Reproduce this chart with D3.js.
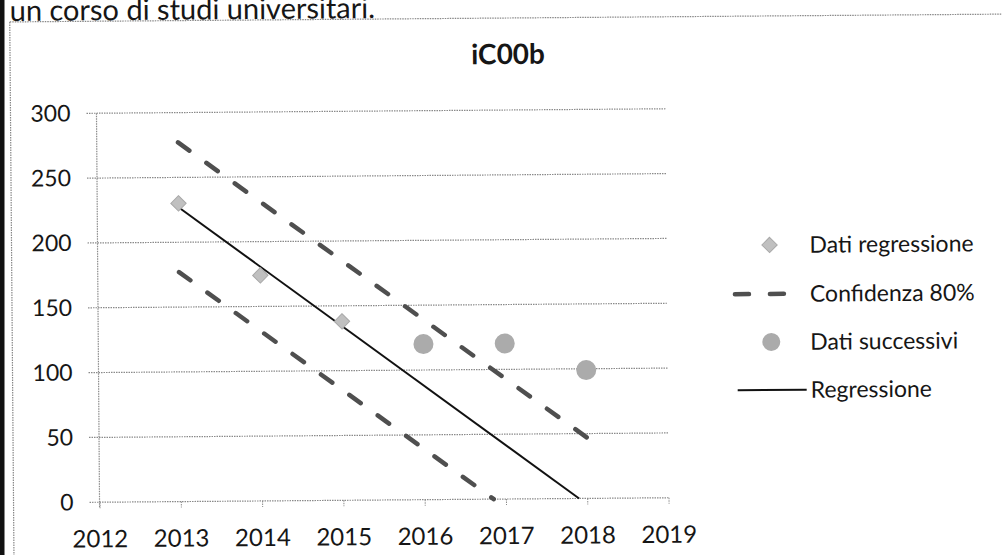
<!DOCTYPE html>
<html lang="it">
<head>
<meta charset="UTF-8">
<title>iC00b</title>
<script src="https://cdn.jsdelivr.net/npm/d3@7"></script>
<style>
    body { margin: 0; background: #fff; }
    text { font-family: Lato, "Open Sans", sans-serif; fill: #161616; }
</style>
</head>
<body>
<script>
    // valori
    var xTicks = [2012, 2013, 2014, 2015, 2016, 2017, 2018, 2019];
    var yTicks = [0, 50, 100, 150, 200, 250, 300];
    var regYears = [2013, 2014, 2015];
    var regValues = [230, 174, 138];
    var nextYears = [2016, 2017, 2018];
    var nextValues = [120, 120, 99];
    var lineYears = [2013, 2017.9];
    var lineValues = [227, 0];
    var upperYears = [2013, 2018];
    var upperValues = [277, 47];
    var lowerYears = [2013, 2016.85];
    var lowerValues = [177, 0];
    var legendLabels = ["Dati regressione", "Confidenza 80%", "Dati successivi", "Regressione"];

    var W = 1002, H = 555;
    var svg = d3.select("body").append("svg").attr("width", W).attr("height", H);
    // la scansione e' leggermente ruotata
    var g = svg.append("g").attr("transform", "rotate(-0.45,382,305)");

    var x = d3.scaleLinear().domain([2012, 2019]).range([98, 667]);
    var y = d3.scaleLinear().domain([0, 300]).range([500, 111]);

    // bordo pagina e cornice tratteggiata
    svg.append("rect").attr("x", 0).attr("y", 0).attr("width", 4.5).attr("height", H).attr("fill", "#111");
    g.append("line").attr("x1", 12).attr("y1", 19).attr("x2", 1010).attr("y2", 19)
        .attr("stroke", "#888").attr("stroke-width", 1.2).attr("stroke-dasharray", "1.5,1");
    g.append("line").attr("x1", 12).attr("y1", 19).attr("x2", 12).attr("y2", 570)
        .attr("stroke", "#888").attr("stroke-width", 1.2).attr("stroke-dasharray", "1.5,1");
    g.append("text").attr("x", 12).attr("y", 18).attr("font-size", 29).text("un corso di studi universitari.");

    g.append("text").attr("x", 510).attr("y", 65).attr("text-anchor", "middle")
        .attr("font-size", 28).attr("font-weight", "bold").text("iC00b");

    // griglia
    g.selectAll(".grid").data(yTicks).enter().append("line")
        .attr("x1", 88).attr("x2", x(2019)).attr("y1", d => y(d)).attr("y2", d => y(d))
        .attr("stroke", "#8a8a8a").attr("stroke-width", 1.2).attr("stroke-dasharray", "1.5,1");
    g.append("line").attr("x1", x(2012)).attr("x2", x(2012)).attr("y1", y(300)).attr("y2", y(0) + 6)
        .attr("stroke", "#8a8a8a").attr("stroke-width", 1.2).attr("stroke-dasharray", "1.5,1");

    // assi
    var yAxis = g.append("g").attr("transform", "translate(72,0)")
        .call(d3.axisLeft(y).tickValues(yTicks).tickSize(0).tickPadding(0));
    yAxis.select(".domain").remove();
    yAxis.selectAll("text").attr("font-size", 23).attr("font-family", null).attr("fill", null);

    var xAxis = g.append("g").attr("transform", "translate(0," + y(0) + ")")
        .call(d3.axisBottom(x).tickValues(xTicks).tickFormat(d3.format("d")).tickSize(6).tickPadding(22));
    xAxis.select(".domain").remove();
    xAxis.selectAll("line").attr("stroke", "#8a8a8a").attr("stroke-dasharray", "1.5,1");
    xAxis.selectAll("text").attr("font-size", 24).attr("font-family", null).attr("fill", null);

    // serie
    var line = d3.line().x(d => x(d[0])).y(d => y(d[1]));
    function band(xs, vs) {
        g.append("path").attr("d", line(d3.zip(xs, vs))).attr("fill", "none")
            .attr("stroke", "#4f4f4f").attr("stroke-width", 4.5).attr("stroke-linecap", "round")
            .attr("stroke-dasharray", "14,21");
    }
    band(upperYears, upperValues);
    band(lowerYears, lowerValues);

    g.append("path").attr("d", line(d3.zip(lineYears, lineValues))).attr("fill", "none")
        .attr("stroke", "#111").attr("stroke-width", 2);

    g.selectAll(".reg").data(d3.zip(regYears, regValues)).enter().append("path")
        .attr("transform", d => "translate(" + x(d[0]) + "," + y(d[1]) + ")")
        .attr("d", d3.symbol(d3.symbolDiamond2, 150)())
        .attr("fill", "#c0c0c0").attr("stroke", "#a8a8a8").attr("stroke-width", 1);

    g.selectAll(".next").data(d3.zip(nextYears, nextValues)).enter().append("circle")
        .attr("cx", d => x(d[0])).attr("cy", d => y(d[1])).attr("r", 10)
        .attr("fill", "#ababab");

    // legenda
    var lg = g.append("g");
    var rowY = [248, 297, 345, 393];
    lg.append("path").attr("transform", "translate(770," + rowY[0] + ")")
        .attr("d", d3.symbol(d3.symbolDiamond2, 150)())
        .attr("fill", "#c0c0c0").attr("stroke", "#a8a8a8");
    lg.append("line").attr("x1", 735).attr("x2", 805).attr("y1", rowY[1]).attr("y2", rowY[1])
        .attr("stroke", "#4f4f4f").attr("stroke-width", 4.5).attr("stroke-linecap", "round")
        .attr("stroke-dasharray", "14,21");
    lg.append("circle").attr("cx", 771).attr("cy", rowY[2]).attr("r", 9).attr("fill", "#ababab");
    lg.append("line").attr("x1", 737).attr("x2", 806).attr("y1", rowY[3]).attr("y2", rowY[3])
        .attr("stroke", "#111").attr("stroke-width", 2);
    lg.selectAll(".lt").data(legendLabels).enter().append("text")
        .attr("x", 810).attr("y", (d, i) => rowY[i]).attr("dy", "0.35em")
        .attr("font-size", 23).text(d => d);
</script>
</body>
</html>
